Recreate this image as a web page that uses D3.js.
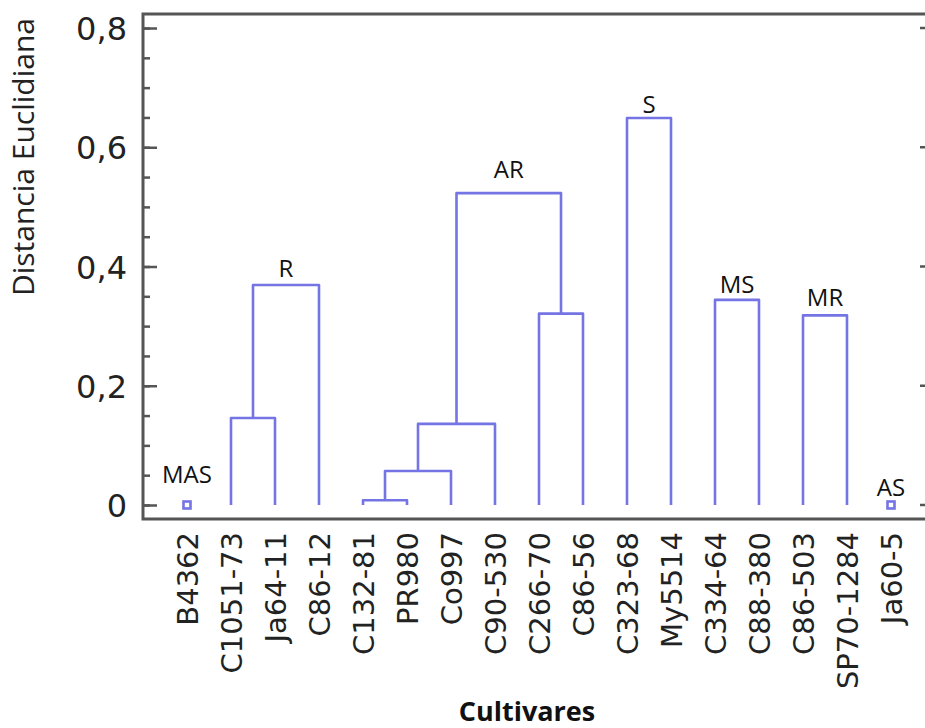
<!DOCTYPE html>
<html>
<head>
<meta charset="utf-8">
<script src="https://cdn.jsdelivr.net/npm/d3@7/dist/d3.min.js"></script>
<style>
  html, body { margin: 0; padding: 0; background: #fff; overflow: hidden; }
  svg { display: block; }
</style>
</head>
<body>
<svg id="chart" width="925" height="728"></svg>
<script>
// ---- data ----
const cultivars = ["B4362","C1051-73","Ja64-11","C86-12","C132-81","PR980","Co997",
  "C90-530","C266-70","C86-56","C323-68","My5514","C334-64","C88-380","C86-503",
  "SP70-1284","Ja60-5"];
// merges: id, left child, right child, Euclidean distance
const mergeIds    = ["m0","m1","m2","m3","m4","m5","m6","m7","m8","m9"];
const mergeLeft   = ["C1051-73","m0","C132-81","m2","m3","C266-70","m4","C323-68","C334-64","C86-503"];
const mergeRight  = ["Ja64-11","C86-12","PR980","Co997","C90-530","C86-56","m5","My5514","C88-380","SP70-1284"];
const mergeHeight = [0.146, 0.369, 0.008, 0.057, 0.136, 0.321, 0.523, 0.649, 0.344, 0.318];
const singletons  = ["B4362","Ja60-5"];
const groupNames  = ["MAS","R","AR","S","MS","MR","AS"];
const groupNodes  = ["B4362","m1","m6","m7","m8","m9","Ja60-5"];
const yTicks      = [0, 0.2, 0.4, 0.6, 0.8];
const yMinorTicks = [0,0.05,0.1,0.15,0.2,0.25,0.3,0.35,0.4,0.45,0.5,0.55,0.6,0.65,0.7,0.75,0.8];
const yDomain     = [-0.0235, 0.8235];

// ---- layout / style ----
const plotL = 143, plotR = 935, plotT = 14, plotB = 519, viewR = 925;
const lineColor = "#7474e4";
const axisColor = "#555";
// label baseline lift above the merge line (px)
const labelLift = {MAS: 22, R: 8, AR: 15, S: 5, MS: 7, MR: 9, AS: 9};

const svg = d3.select("#chart");

const x = d3.scalePoint().domain(cultivars).range([plotL, plotR]).padding(1);
const y = d3.scaleLinear().domain(yDomain).range([plotB, plotT]);

// node positions
const nodes = new Map();
cultivars.forEach(c => nodes.set(c, {x: x(c), h: 0}));
mergeIds.forEach((id, i) => {
  const l = nodes.get(mergeLeft[i]), r = nodes.get(mergeRight[i]);
  nodes.set(id, {x: (l.x + r.x) / 2, h: mergeHeight[i], l, r});
});

// ---- axes ----
const fmt = d => d === 0 ? "0" : d3.format(".1f")(d).replace(".", ",");

// minor ticks left
svg.append("g").attr("transform", `translate(${plotL},0)`)
  .call(d3.axisLeft(y).tickValues(yMinorTicks).tickSize(-7).tickSizeOuter(0).tickFormat(""))
  .call(g => g.select(".domain").remove())
  .call(g => g.selectAll("line").attr("stroke", axisColor).attr("stroke-width", 2.5));
// major ticks left
svg.append("g").attr("transform", `translate(${plotL},0)`)
  .call(d3.axisLeft(y).tickValues(yTicks).tickSize(-14).tickSizeOuter(0).tickPadding(16).tickFormat(fmt))
  .call(g => g.select(".domain").remove())
  .call(g => g.selectAll("line").attr("stroke", axisColor).attr("stroke-width", 2.5))
  .call(g => g.selectAll("text")
      .attr("font-family", "DejaVu Sans, Verdana, sans-serif")
      .attr("font-size", 32).attr("fill", "#222").attr("dy", "0.36em"));
// right ticks: short stubs at the image edge
svg.append("g")
  .selectAll("line").data(yTicks).join("line")
  .attr("x1", plotR - 15).attr("x2", viewR)
  .attr("y1", d => y(d)).attr("y2", d => y(d))
  .attr("stroke", axisColor).attr("stroke-width", 2.5);

// bottom axis with rotated labels
svg.append("g").attr("transform", `translate(0,${plotB})`)
  .call(d3.axisBottom(x).tickSize(0).tickSizeOuter(0))
  .call(g => g.select(".domain").remove())
  .call(g => g.selectAll("text")
      .attr("transform", "rotate(-90)")
      .attr("x", -13).attr("y", 0).attr("dy", "0.36em")
      .style("text-anchor", "end")
      .attr("font-family", "DejaVu Sans, Verdana, sans-serif")
      .attr("font-size", 29).attr("fill", "#222"));

// frame (left, top, bottom)
svg.append("path")
  .attr("d", `M${viewR},${plotT}H${plotL}V${plotB}H${viewR}`)
  .attr("fill", "none").attr("stroke", axisColor).attr("stroke-width", 3);

// ---- dendrogram ----
const gD = svg.append("g");
mergeIds.forEach(id => {
  const n = nodes.get(id);
  gD.append("path")
    .attr("d", `M${n.l.x},${y(n.l.h)}V${y(n.h)}H${n.r.x}V${y(n.r.h)}`)
    .attr("fill", "none").attr("stroke", lineColor).attr("stroke-width", 2.6)
    .attr("stroke-linejoin", "round");
});
singletons.forEach(s => {
  const n = nodes.get(s);
  gD.append("rect")
    .attr("x", n.x - 3.5).attr("y", y(0) - 3.5)
    .attr("width", 7).attr("height", 7)
    .attr("fill", "none").attr("stroke", lineColor).attr("stroke-width", 2.6);
});

// group labels
groupNames.forEach((name, i) => {
  const n = nodes.get(groupNodes[i]);
  svg.append("text")
    .attr("x", n.x).attr("y", y(n.h) - labelLift[name])
    .attr("text-anchor", "middle")
    .attr("font-family", "Open Sans, sans-serif")
    .attr("font-size", 24).attr("fill", "#111")
    .text(name);
});

// axis titles
svg.append("text")
  .attr("transform", `translate(34,157) rotate(-90)`)
  .attr("text-anchor", "middle")
  .attr("font-family", "Open Sans, sans-serif")
  .attr("font-size", 30).attr("fill", "#222")
  .text("Distancia Euclidiana");
svg.append("text")
  .attr("x", 527).attr("y", 721)
  .attr("text-anchor", "middle")
  .attr("font-family", "Open Sans, sans-serif")
  .attr("font-weight", "bold")
  .attr("font-size", 27).attr("fill", "#111")
  .text("Cultivares");
</script>
</body>
</html>
